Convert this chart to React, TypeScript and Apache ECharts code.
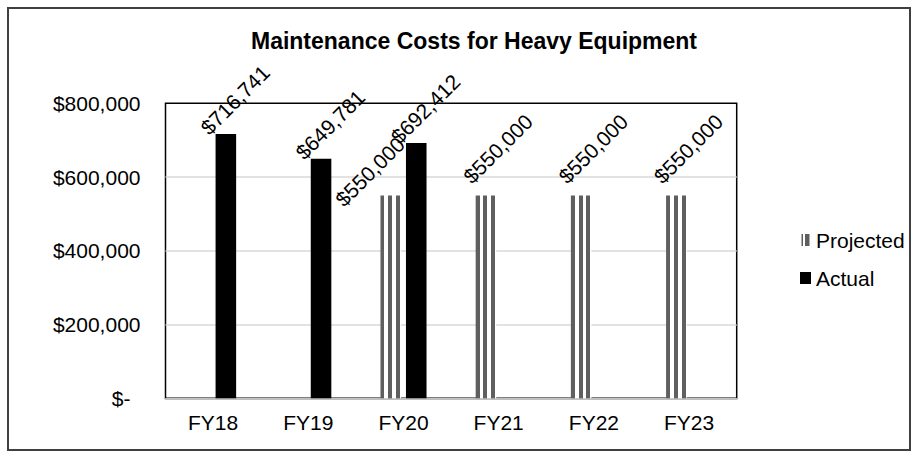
import React, { useEffect, useRef } from 'react';
import * as echarts from 'echarts';

const categories = ['FY18', 'FY19', 'FY20', 'FY21', 'FY22', 'FY23'];
const projected: (number | null)[] = [null, null, 550000, 550000, 550000, 550000];
const actual: (number | null)[] = [716741, 649781, 692412, null, null, null];
const yMin = 0;
const yMax = 800000;
const yStep = 200000;

const FONT = '"Liberation Sans", Arial, Helvetica, sans-serif';
const STRIPE = '#5f5f5f';

const money = (v: number) => '$' + v.toLocaleString('en-US');

export default function App() {
  const ref = useRef<HTMLDivElement>(null);
  useEffect(() => {
    const chart = echarts.init(ref.current!, null, { renderer: 'svg' });
    const W = '#ffffff';
    const stripes = new echarts.graphic.LinearGradient(0, 0, 1, 0, [
      { offset: 0, color: STRIPE }, { offset: 0.19, color: STRIPE },
      { offset: 0.19, color: W }, { offset: 0.38, color: W },
      { offset: 0.38, color: STRIPE }, { offset: 0.57, color: STRIPE },
      { offset: 0.57, color: W }, { offset: 0.76, color: W },
      { offset: 0.76, color: STRIPE }, { offset: 0.95, color: STRIPE },
      { offset: 0.95, color: W }, { offset: 1, color: W },
    ]);
    const labelBase = {
      show: true,
      position: 'top',
      rotate: 45,
      align: 'center',
      verticalAlign: 'middle',
      fontSize: 21,
      fontFamily: FONT,
      color: '#000',
      formatter: (p: any) => money(p.value),
    };
    chart.setOption({
      animation: false,
      textStyle: { fontFamily: FONT },
      title: {
        text: 'Maintenance Costs for Heavy Equipment',
        left: 460,
        textAlign: 'center',
        top: 15,
        textStyle: { fontSize: 23, fontWeight: 'bold', color: '#000', fontFamily: FONT },
      },
      legend: {
        orient: 'vertical',
        left: 791,
        top: 220,
        padding: 0,
        itemWidth: 11,
        itemHeight: 12,
        itemGap: 16,
        textStyle: { fontSize: 21, color: '#000', fontFamily: FONT, lineHeight: 22 },
        data: [
          { name: 'Projected', icon: 'path://M0,0h1.5v12h-1.5z M3.5,0h4.5v12h-4.5z', itemStyle: { color: STRIPE } },
          { name: 'Actual', icon: 'rect', itemStyle: { color: '#000' } },
        ],
      },
      grid: {
        left: 156.5,
        right: 172.3,
        top: 94.3,
        bottom: 50.7,
        show: true,
        borderColor: '#000',
        borderWidth: 1.5,
        backgroundColor: 'transparent',
      },
      xAxis: {
        type: 'category',
        data: categories,
        axisTick: { show: false },
        axisLine: { lineStyle: { color: '#bfbfbf', width: 2 } },
        axisLabel: { fontSize: 21, color: '#000', margin: 14, fontFamily: FONT },
      },
      yAxis: {
        type: 'value',
        min: yMin,
        max: yMax,
        interval: yStep,
        axisLine: { show: false },
        axisTick: { show: false },
        splitLine: { showMaxLine: false, showMinLine: false, lineStyle: { color: '#d9d9d9', width: 1.5 } },
        axisLabel: {
          fontSize: 21,
          color: '#000',
          margin: 25,
          fontFamily: FONT,
          formatter: (v: number) => (v === 0 ? '{z|$-}' : money(v)),
          rich: { z: { fontSize: 21, color: '#000', fontFamily: FONT, padding: [0, 10, 0, 0] } },
        },
      },
      series: [
        {
          name: 'Projected',
          type: 'bar',
          barWidth: '21.6%',
          barGap: '24%',
          itemStyle: { color: stripes },
          label: { ...labelBase, offset: [38, -21] },
          data: projected.map((v, i) =>
            categories[i] === 'FY20' && v != null ? { value: v, label: { offset: [-1.5, -28] } } : v
          ),
        },
        {
          name: 'Actual',
          type: 'bar',
          barWidth: '21.6%',
          barGap: '24%',
          itemStyle: { color: '#000' },
          label: { ...labelBase, offset: [27, -14] },
          data: actual,
        },
      ],
    });
    return () => chart.dispose();
  }, []);
  return (
    <div
      style={{
        position: 'absolute',
        left: 7,
        top: 7,
        width: 904,
        height: 444,
        border: '2px solid #404040',
        boxSizing: 'border-box',
        background: '#fff',
      }}
    >
      <div ref={ref} style={{ width: 900, height: 440 }} />
    </div>
  );
}
